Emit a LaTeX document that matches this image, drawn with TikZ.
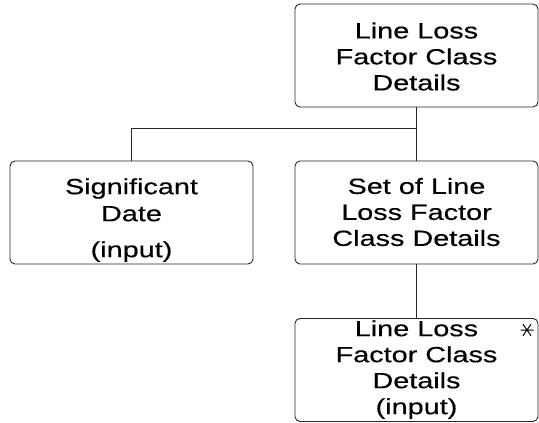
\documentclass[tikz,border=0pt]{standalone}
\usepackage{fontspec}
\usetikzlibrary{calc}
\setmainfont{Liberation Sans}[FakeStretch=1.31,FakeBold=0.4]
\begin{document}
\begin{tikzpicture}[x=1pt,y=1pt,
  box/.style={draw=black!85, line width=0.9pt, rounded corners=5pt, minimum width=243pt, minimum height=103pt, inner sep=0pt},
  txt/.style={inner sep=0pt, align=center, font=\fontsize{22}{26}\selectfont},
  conn/.style={draw=black!85, line width=0.9pt}]
\useasboundingbox (0,0) rectangle (539,-423);
\node[box] (top) at (416.5,-55.5) {};
\node[txt] (toptext) at (416.5,-56.5) {Line Loss\\Factor Class\\Details};
\node[box] (sig) at (131.5,-212.5) {};
\node[txt] (sigtext) at (131.5,-220) {Significant\\[1pt]Date\\[10pt](input)};
\node[box] (set) at (416.5,-212.5) {};
\node[txt] (settext) at (416.5,-212) {Set of Line\\Loss Factor\\Class Details};
\node[box] (bot) at (416.5,-370) {};
\node[txt] (bottext) at (416.5,-369.5) {Line Loss\\Factor Class\\Details\\(input)};
\coordinate (j) at (top.south |- 0,-128);
\draw[conn] (top.south) -- (j) -| (sig.north);
\draw[conn] (j) -- (set.north);
\draw[conn] (set.south) -- (bot.north);
\coordinate (ast) at (527,-330);
\draw[line width=1pt] ($(ast)+(-6.5,0)$) -- ($(ast)+(6.5,0)$)
  ($(ast)+(55:7)$) -- ($(ast)+(235:7)$)
  ($(ast)+(125:7)$) -- ($(ast)+(305:7)$);
\end{tikzpicture}
\end{document}
